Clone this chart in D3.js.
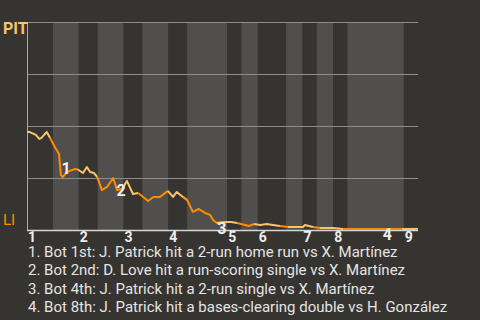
<!DOCTYPE html>
<html>
<head>
<meta charset="utf-8">
<script src="https://cdn.jsdelivr.net/npm/d3@7/dist/d3.min.js"></script>
<style>
  body { margin: 0; background: #363430; }
  svg { display: block; font-family: Roboto, "Noto Sans", sans-serif; }
</style>
</head>
<body>
<div id="chart"></div>
<script>
//Where each half-inning starts (play index), top 1st first
var halfStarts = [0, 5.5, 11, 15, 20.5, 24.5, 30, 34, 42.5, 45.5, 49, 55, 58.5, 61.5, 65, 68, 80];
var lastPlay = 83;
var inningLabels = ["1", "2", "3", "4", "5", "6", "7", "8", "9"];

//Win probability for PIT after each play
var playIdx = [0, 0.6, 1.9, 2.6, 3, 4.2, 4.9, 5.9, 6.8, 7.2, 7.6, 8.5, 9.1, 10.2, 10.8,
  11.9, 12.7, 13.4, 14.2, 14.9, 15.9, 17, 18.3, 19.1, 20.2, 21.2, 22.5, 23.6, 25.7, 26.8,
  28.2, 29.9, 31, 31.8, 33.1, 34, 35.2, 36.5, 37.8, 38.9, 39.5, 40.3, 42.5, 43.3, 44.6,
  46.3, 47.1, 48.2, 49.5, 50.9, 52.2, 53.7, 55.4, 58.6, 59, 60.7, 62.2, 65, 67.1, 79.6, 83];
var pitWinProb = [0.471, 0.471, 0.457, 0.438, 0.442, 0.471, 0.442, 0.399, 0.365, 0.264, 0.255, 0.279, 0.284, 0.293, 0.291,
  0.274, 0.303, 0.279, 0.274, 0.255, 0.192, 0.207, 0.25, 0.192, 0.197, 0.236, 0.173, 0.178, 0.139, 0.159,
  0.159, 0.188, 0.159, 0.183, 0.159, 0.144, 0.087, 0.101, 0.082, 0.072, 0.048, 0.034, 0.038, 0.038, 0.034,
  0.024, 0.019, 0.029, 0.024, 0.029, 0.024, 0.019, 0.014, 0.014, 0.024, 0.014, 0.01, 0.01, 0.005, 0.005, 0.005];

//Key plays
var noteIdx = [7.3, 19.0, 40.4, 75.5];
var noteProb = [0.298, 0.192, 0.01, -0.022];
var noteText = [
  "Bot 1st: J. Patrick hit a 2-run home run vs X. Martínez",
  "Bot 2nd: D. Love hit a run-scoring single vs X. Martínez",
  "Bot 4th: J. Patrick hit a 2-run single vs X. Martínez",
  "Bot 8th: J. Patrick hit a bases-clearing double vs H. González"
];

var width = 480, height = 320;
var awayColor = "#f9c46b", homeColor = "#ff8c00";

var svg = d3.select("#chart").append("svg")
  .attr("width", width).attr("height", height);

svg.append("rect").attr("width", width).attr("height", height).attr("fill", "#363430");

var x = d3.scaleLinear().domain([0, lastPlay]).range([27, 418]);
var y = d3.scaleLinear().domain([0, 1]).range([230, 22]);

//half-inning bands, bottom halves lighter
var halfEnds = halfStarts.slice(1).concat([lastPlay]);
svg.selectAll(".band")
  .data(halfStarts)
  .enter().append("rect")
    .attr("class", "band")
    .attr("x", function(d) { return x(d); })
    .attr("y", y(1))
    .attr("width", function(d, i) { return x(halfEnds[i]) - x(d); })
    .attr("height", y(0) - y(1))
    .attr("fill", function(d, i) { return i % 2 ? "#504f4d" : "#363430"; });

//grid lines
svg.selectAll(".grid")
  .data([0.25, 0.5, 0.75, 1])
  .enter().append("line")
    .attr("x1", x(0)).attr("x2", x(lastPlay))
    .attr("y1", function(d) { return Math.round(y(d)) + 0.5; })
    .attr("y2", function(d) { return Math.round(y(d)) + 0.5; })
    .attr("stroke", "#8e8d8b").attr("stroke-width", 1);

svg.append("line")
  .attr("x1", x(0) + 0.5).attr("x2", x(0) + 0.5)
  .attr("y1", y(1)).attr("y2", y(0))
  .attr("stroke", "#a9a8a6");

svg.append("line")
  .attr("x1", x(0)).attr("x2", x(lastPlay))
  .attr("y1", y(0) + 0.5).attr("y2", y(0) + 0.5)
  .attr("stroke", "#d6d6d6").attr("stroke-width", 1.5);

//win probability line, one piece per half-inning
var points = playIdx.map(function(p, i) { return [p, pitWinProb[i]]; });
var line = d3.line()
  .x(function(d) { return x(d[0]); })
  .y(function(d) { return y(d[1]); });

halfStarts.forEach(function(s, i) {
  var e = halfEnds[i];
  var seg = points.filter(function(d) { return d[0] >= s && d[0] <= e; });
  var before = points.filter(function(d) { return d[0] < s; });
  if (before.length) seg.unshift(before[before.length - 1]);
  if (seg.length < 2) return;
  svg.append("path")
    .datum(seg)
    .attr("d", line)
    .attr("fill", "none")
    .attr("stroke", i % 2 ? homeColor : awayColor)
    .attr("stroke-width", 2)
    .attr("stroke-linejoin", "round");
});

//team labels
svg.append("text")
  .attr("x", 3).attr("y", 34)
  .attr("font-size", 16).attr("font-weight", "bold")
  .attr("fill", awayColor)
  .text("PIT");

svg.append("text")
  .attr("x", 3).attr("y", 225)
  .attr("font-size", 15)
  .attr("fill", homeColor)
  .text("LI");

//inning numbers
svg.selectAll(".inning")
  .data(inningLabels)
  .enter().append("text")
    .attr("x", function(d, i) { return x(halfStarts[i * 2]) + 1; })
    .attr("y", 242)
    .attr("font-size", 14).attr("font-weight", "bold")
    .attr("fill", "#eeeeee")
    .text(function(d) { return d; });

//key play markers
svg.selectAll(".note")
  .data(noteIdx)
  .enter().append("text")
    .attr("x", function(d) { return x(d); })
    .attr("y", function(d, i) { return y(noteProb[i]); })
    .attr("dy", "0.36em")
    .attr("font-size", 16).attr("font-weight", "bold")
    .attr("fill", "#eeeeee")
    .text(function(d, i) { return i + 1; });

//key play list
svg.selectAll(".desc")
  .data(noteText)
  .enter().append("text")
    .attr("x", 28)
    .attr("y", function(d, i) { return 257 + i * 18.3; })
    .attr("font-size", 15)
    .attr("fill", "#e4e4e4")
    .text(function(d, i) { return (i + 1) + ". " + d; });
</script>
</body>
</html>
